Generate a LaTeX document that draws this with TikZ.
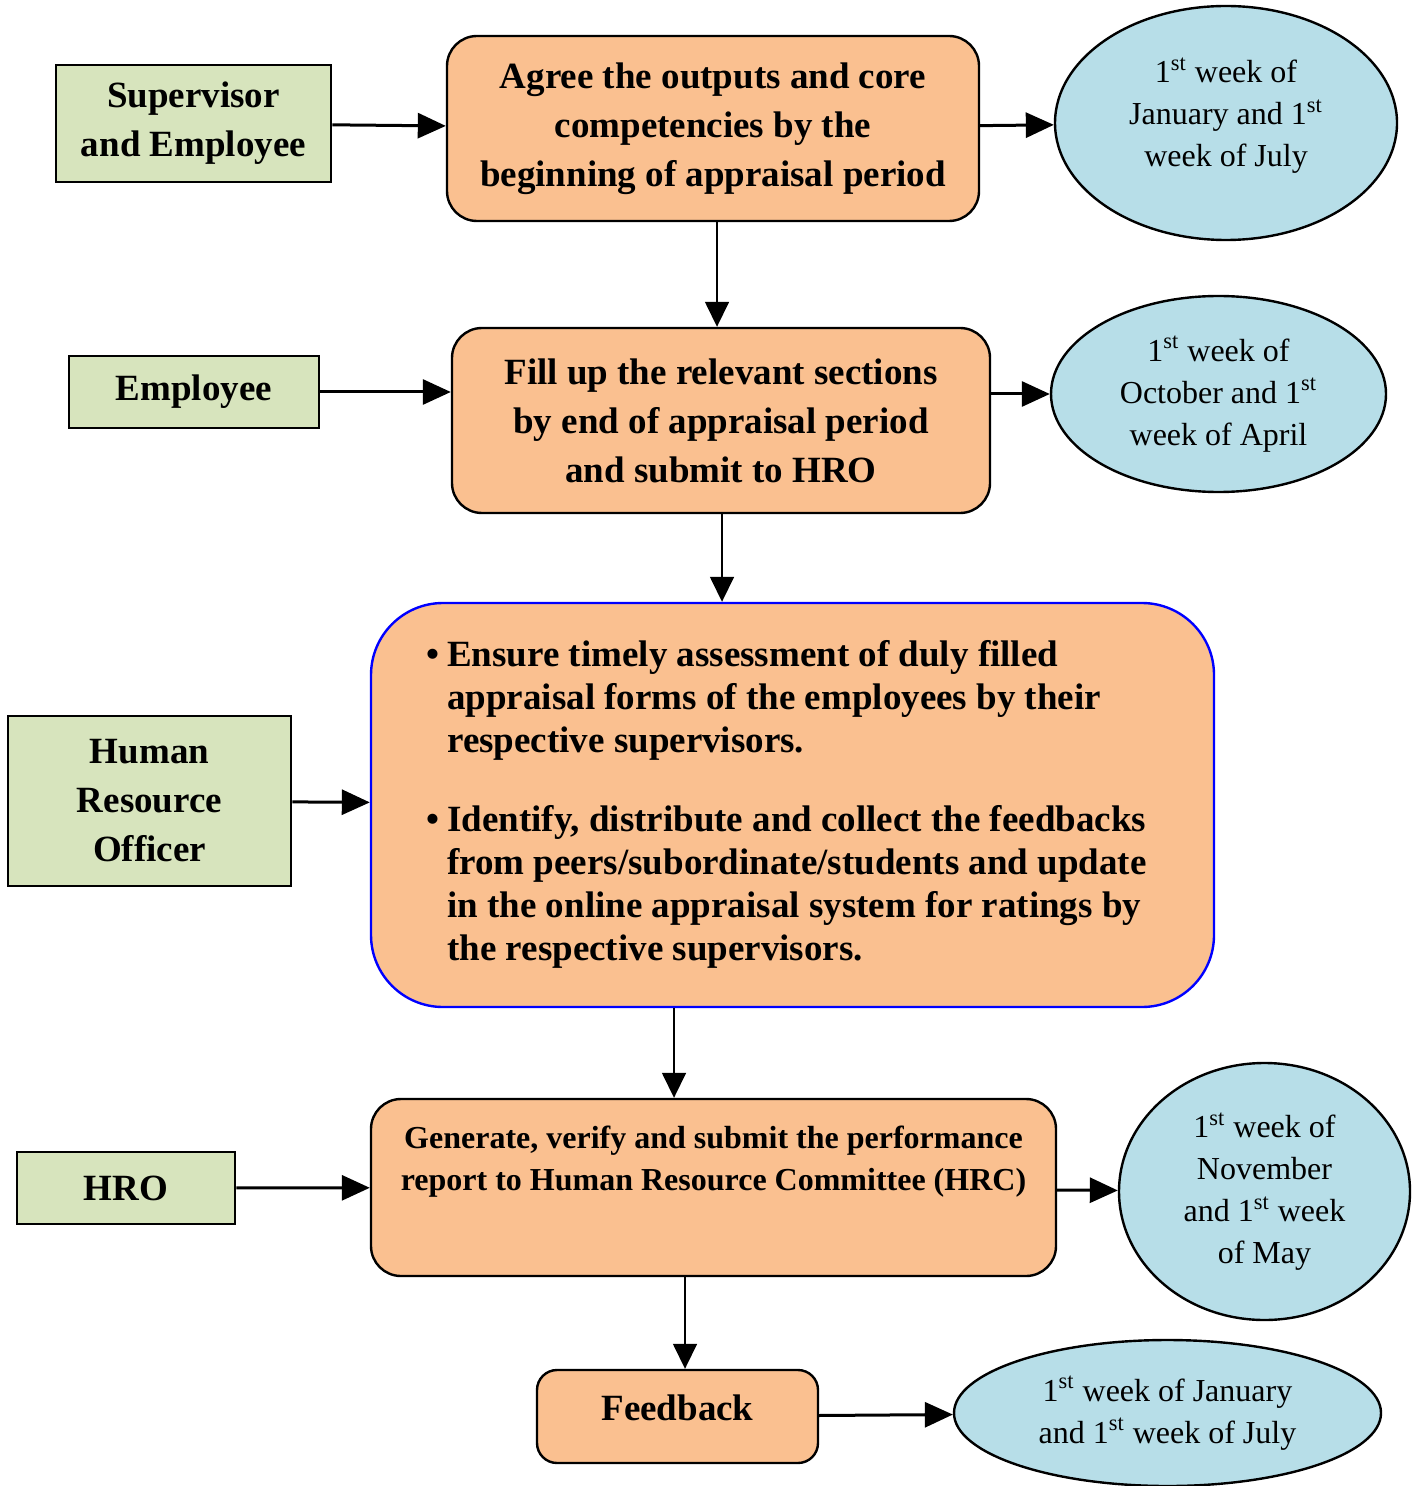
\documentclass[tikz,border=0pt]{standalone}
\usepackage{fontspec}
\setmainfont{Liberation Serif}
\usetikzlibrary{shapes.geometric,arrows.meta}

\definecolor{rolegreen}{HTML}{D7E4BD}
\definecolor{steporange}{HTML}{FAC090}
\definecolor{dateblue}{HTML}{B7DEE8}
\newcommand{\nst}{\textsuperscript{st}}

\begin{document}
\begin{tikzpicture}[x=0.5pt,y=-0.5pt,>={Triangle[length=14pt,width=12.5pt]},
    rolebox/.style={rectangle,draw=black,line width=1.3pt,fill=rolegreen,inner sep=0pt,
      align=center,font=\fontsize{18.5}{24.5}\selectfont\bfseries},
    stepbox/.style={rectangle,rounded corners=15pt,draw=black,line width=1.2pt,fill=steporange,
      inner sep=0pt,align=center,font=\fontsize{18.5}{24.5}\selectfont\bfseries},
    dateell/.style={ellipse,draw=black,line width=1.2pt,fill=dateblue,inner sep=0pt,
      align=center,font=\fontsize{16}{21}\selectfont}]
\useasboundingbox (0,0) rectangle (1421,1486);

% who does it
\begin{scope}[every node/.style={rolebox}]
    \node[minimum width=137.5pt,minimum height=58.5pt] (R1) at (193.5,123.5) {Supervisor\\and Employee};
    \node[minimum width=125pt,minimum height=36pt] (R2) at (194,392) {Employee};
    \node[minimum width=141.5pt,minimum height=85pt] (R3) at (149.5,801) {Human\\Resource\\Officer};
    \node[minimum width=109pt,minimum height=36pt] (R4) at (126,1188) {HRO};
\end{scope}

% what is done
\begin{scope}[every node/.style={stepbox}]
    \node[minimum width=266pt,minimum height=92.5pt] (P1) at (713,128.5)
        {Agree the outputs and core\\competencies by the\\beginning of appraisal period};
    \node[minimum width=269pt,minimum height=92.5pt] (P2) at (721,420.5)
        {Fill up the relevant sections\\by end of appraisal period\\and submit to HRO};
    \node[minimum width=421.5pt,minimum height=202pt,draw=blue,rounded corners=36pt,
        font=\fontsize{18.5}{21.5}\selectfont\bfseries] (P3) at (792.5,805)
        {\begin{tabular}{@{}l@{\hspace{4pt}}l@{\hspace{6pt}}}
            \textbullet & Ensure timely assessment of duly filled\\
            & appraisal forms of the employees by their\\
            & respective supervisors.\\[18pt]
            \textbullet & Identify, distribute and collect the feedbacks\\
            & from peers/subordinate/students and update\\
            & in the online appraisal system for ratings by\\
            & the respective supervisors.
        \end{tabular}};
    \node[minimum width=342.5pt,minimum height=88.5pt,
        font=\fontsize{16}{21}\selectfont\bfseries] (P4) at (713.5,1187.5)
        {\parbox[c][88.5pt][t]{340pt}{\centering\vspace*{13.5pt}%
            Generate, verify and submit the performance\\
            report to Human Resource Committee (HRC)}};
    \node[minimum width=140.5pt,minimum height=46.5pt,rounded corners=10pt] (P5) at (677.5,1416.5)
        {Feedback\\[-15.5pt]\mbox{}};
\end{scope}

% when
\begin{scope}[every node/.style={dateell}]
    \node[minimum width=171pt,minimum height=117pt] (T1) at (1226,123)
        {1\nst{} week of\\January and 1\nst\\week of July\\[-10pt]\mbox{}};
    \node[minimum width=167.5pt,minimum height=98pt] (T2) at (1218.5,394)
        {1\nst{} week of\\October and 1\nst\\week of April};
    \node[minimum width=145.5pt,minimum height=128.5pt] (T3) at (1264.5,1191.5)
        {1\nst{} week of\\November\\and 1\nst{} week\\of May};
    \node[minimum width=213.5pt,minimum height=73pt] (T4) at (1167.5,1413)
        {1\nst{} week of January\\and 1\nst{} week of July};
\end{scope}

\begin{scope}[every edge/.style={draw=black,line width=1.5pt}]
    \path [->] (R1) edge (P1);
    \path [->] (P1) edge (T1);
    \path [->] (R2) edge (R2 -| P2.west);
    \path [->] (P2.east |- T2) edge (T2);
    \path [->] (R3) edge (P3);
    \path [->] (R4) edge (P4);
    \path [->] (P4) edge (T3);
    \path [->] (P5) edge (T4);
\end{scope}

\begin{scope}[>={Triangle[length=12.5pt,width=12pt]},every edge/.style={draw=black,line width=0.8pt}]
    \path [->] ([xshift=2pt]P1.south) edge ([xshift=-2pt]P2.north);
    \path [->] ([xshift=0.5pt]P2.south) edge ([xshift=-35.25pt]P3.north);
    \path [->] ([xshift=-59.25pt]P3.south) edge ([xshift=-19.75pt]P4.north);
    \path [->] ([xshift=-14.25pt]P4.south) edge ([xshift=3.75pt]P5.north);
\end{scope}
\end{tikzpicture}
\end{document}
